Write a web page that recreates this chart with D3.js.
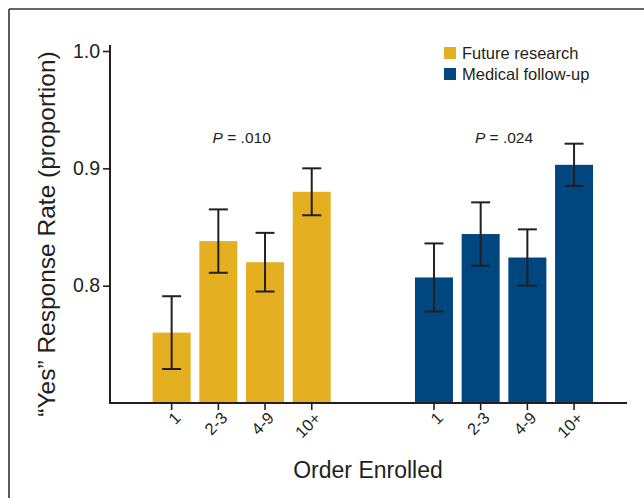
<!DOCTYPE html>
<html>
<head>
<meta charset="utf-8">
<script src="https://cdn.jsdelivr.net/npm/d3@7"></script>
<style>
  html, body { margin: 0; padding: 0; background: #fff; }
  svg { display: block; font-family: "Liberation Sans", Arial, Helvetica, sans-serif; }
</style>
</head>
<body>
<svg id="chart" width="644" height="498"></svg>
<script>
// Enrollment-order groups and the two consent questions
const orders = ["1", "2-3", "4-9", "10+"];
const seriesNames = ["Future research", "Medical follow-up"];
const seriesColors = ["#E4B021", "#01477F"];
const pLabels = [".010", ".024"];

// Proportion answering "yes" and half-width of the error bar, per order group
const futureResearch = [0.760, 0.838, 0.820, 0.880];
const futureResearchErr = [0.031, 0.027, 0.025, 0.020];
const medicalFollowUp = [0.807, 0.844, 0.824, 0.903];
const medicalFollowUpErr = [0.029, 0.027, 0.024, 0.018];

const yTicks = [0.8, 0.9, 1.0];

const groups = seriesNames.map((name, i) => ({
  name,
  color: seriesColors[i],
  p: pLabels[i],
  values: (i === 0 ? futureResearch : medicalFollowUp).map((v, j) => ({
    order: orders[j],
    value: v,
    err: (i === 0 ? futureResearchErr : medicalFollowUpErr)[j]
  }))
}));

const svg = d3.select("#chart");
const ink = "#231f20";

// Panel frame (top and left rules)
svg.append("line").attr("x1", 9).attr("x2", 644).attr("y1", 9).attr("y2", 9)
  .attr("stroke", "#333").attr("stroke-width", 1.6);
svg.append("line").attr("x1", 9).attr("x2", 9).attr("y1", 9).attr("y2", 498)
  .attr("stroke", "#333").attr("stroke-width", 1.6);

const axisX = 110, baseY = 403, topY = 51, rightX = 627;

const y = d3.scaleLinear().domain([0.7, 1.0]).range([baseY, topY]);

const outer = d3.scaleBand().domain(seriesNames).range([148.3, 597.4])
  .paddingInner(0.288).paddingOuter(0);
const inner = d3.scaleBand().domain(orders).range([0, outer.bandwidth()])
  .paddingInner(0.186).paddingOuter(0.093);

// Bars with error bars
groups.forEach(g => {
  const gg = svg.append("g").attr("transform", `translate(${outer(g.name)},0)`);
  gg.selectAll("rect").data(g.values).join("rect")
    .attr("x", d => inner(d.order))
    .attr("width", inner.bandwidth())
    .attr("y", d => y(d.value))
    .attr("height", d => baseY - y(d.value))
    .attr("fill", g.color);

  const eb = gg.selectAll("g.err").data(g.values).join("g").attr("class", "err")
    .attr("transform", d => `translate(${inner(d.order) + inner.bandwidth() / 2},0)`)
    .attr("stroke", ink).attr("stroke-width", 2);
  eb.append("line").attr("y1", d => y(d.value + d.err)).attr("y2", d => y(d.value - d.err));
  eb.append("line").attr("x1", -9.5).attr("x2", 9.5)
    .attr("y1", d => y(d.value + d.err)).attr("y2", d => y(d.value + d.err));
  eb.append("line").attr("x1", -9.5).attr("x2", 9.5)
    .attr("y1", d => y(d.value - d.err)).attr("y2", d => y(d.value - d.err));

  // x-axis ticks and rotated labels for this group
  const xa = svg.append("g")
    .attr("transform", `translate(${outer(g.name)},${baseY})`)
    .call(d3.axisBottom(inner).tickSize(7).tickSizeOuter(0).tickPadding(4));
  xa.select(".domain").remove();
  xa.selectAll(".tick line").attr("stroke", ink).attr("stroke-width", 1.6);
  xa.selectAll(".tick text")
    .attr("fill", ink)
    .attr("font-size", 16.5)
    .attr("text-anchor", "end")
    .attr("dy", null)
    .attr("transform", "translate(7,13) rotate(-45)")
    .attr("x", 0).attr("y", 0)
    .attr("dominant-baseline", "middle");

  // P-value label above each group
  const pt = svg.append("text")
    .attr("x", outer(g.name) + outer.bandwidth() / 2)
    .attr("y", 143)
    .attr("text-anchor", "middle")
    .attr("font-size", 15.5)
    .attr("fill", ink);
  pt.append("tspan").attr("font-style", "italic").text("P");
  pt.append("tspan").text(" = " + g.p);
});

// Baseline (x axis)
svg.append("line").attr("x1", axisX).attr("x2", rightX).attr("y1", baseY).attr("y2", baseY)
  .attr("stroke", ink).attr("stroke-width", 2);

// y axis
const ya = svg.append("g").attr("transform", `translate(${axisX},0)`)
  .call(d3.axisLeft(y).tickValues(yTicks).tickFormat(d3.format(".1f"))
    .tickSize(7).tickSizeOuter(0).tickPadding(3));
ya.select(".domain").remove();
ya.selectAll(".tick line").attr("stroke", ink).attr("stroke-width", 1.6);
ya.selectAll(".tick text").attr("fill", ink).attr("font-size", 19.5);
svg.append("line").attr("x1", axisX).attr("x2", axisX).attr("y1", topY - 6).attr("y2", baseY + 1)
  .attr("stroke", ink).attr("stroke-width", 2);

// Axis titles
svg.append("text")
  .attr("transform", `translate(55,234) rotate(-90)`)
  .attr("text-anchor", "middle")
  .attr("font-size", 24.5)
  .attr("fill", ink)
  .text("\u201CYes\u201D Response Rate (proportion)");

svg.append("text")
  .attr("x", 368).attr("y", 478)
  .attr("text-anchor", "middle")
  .attr("font-size", 23)
  .attr("fill", ink)
  .text("Order Enrolled");

// Legend
const legend = svg.append("g").attr("transform", "translate(444,47)");
seriesNames.forEach((name, i) => {
  const row = legend.append("g").attr("transform", `translate(0,${i * 21})`);
  row.append("rect").attr("width", 12).attr("height", 12).attr("fill", seriesColors[i]);
  row.append("text").attr("x", 18).attr("y", 12)
    .attr("font-size", 16.5).attr("fill", ink).text(name);
});
</script>
</body>
</html>
